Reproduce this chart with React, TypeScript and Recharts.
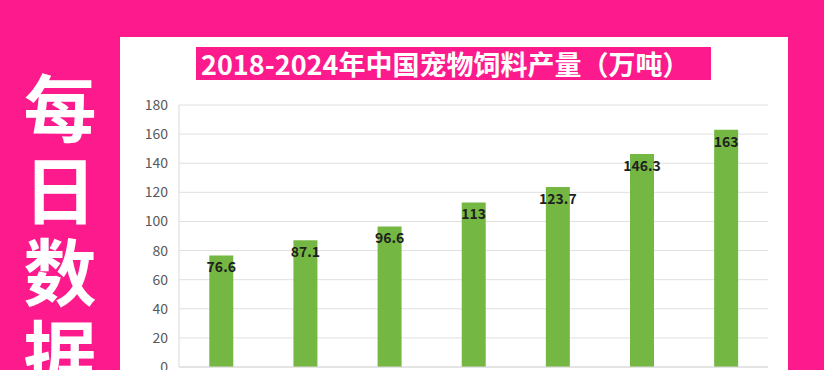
import { Bar, BarChart, CartesianGrid, LabelList, XAxis, YAxis } from 'recharts';

const PINK = '#fc1a8c';
const GREEN = '#74b843';

const years = ['2018', '2019', '2020', '2021', '2022', '2023', '2024'];
const output = [76.6, 87.1, 96.6, 113, 123.7, 146.3, 163];
const yTicks = [0, 20, 40, 60, 80, 100, 120, 140, 160, 180];
const sideChars = ['每', '日', '数', '据'];
const TITLE = '2018-2024年中国宠物饲料产量（万吨）';

const FONT = '"Noto Sans CJK SC", "Noto Sans", sans-serif';

const App = () => {
  const data = years.map((y, i) => ({ year: y, value: output[i] }));

  return (
    <div
      style={{
        position: 'fixed',
        left: 0,
        top: 0,
        width: 824,
        height: 370,
        overflow: 'hidden',
        background: PINK,
        fontFamily: FONT,
      }}
    >
      {/* big vertical banner on the left, one char per slot */}
      {sideChars.map((c, i) => (
        <div
          key={c}
          style={{
            position: 'absolute',
            left: 0,
            top: 63 + i * 82,
            width: 120,
            height: 82,
            textAlign: 'center',
            color: '#fff',
            fontSize: 73,
            fontWeight: 700,
            lineHeight: '82px',
          }}
        >
          {c}
        </div>
      ))}

      {/* white chart panel */}
      <div
        style={{
          position: 'absolute',
          left: 120,
          top: 37,
          width: 668,
          height: 380,
          background: '#fff',
        }}
      >
        <div
          style={{
            position: 'absolute',
            left: 76,
            top: 10,
            width: 510,
            height: 33,
            paddingLeft: 5,
            background: PINK,
            color: '#fff',
            fontSize: 27,
            fontWeight: 700,
            lineHeight: '33px',
            whiteSpace: 'nowrap',
          }}
        >
          {TITLE}
        </div>

        <div style={{ position: 'absolute', left: 0, top: 0 }}>
          <BarChart
            width={668}
            height={365}
            data={data}
            margin={{ top: 68, right: 20, bottom: 5, left: 9 }}
            barCategoryGap="36%"
          >
            <CartesianGrid stroke="#e0e0e0" vertical={false} />
            <XAxis
              dataKey="year"
              axisLine={{ stroke: '#d9d9d9' }}
              tickLine={false}
              tick={{ fontSize: 14, fill: '#595959' }}
            />
            <YAxis
              domain={[0, 180]}
              ticks={yTicks}
              width={50}
              axisLine={{ stroke: '#d9d9d9' }}
              tickLine={false}
              tickMargin={5}
              tick={{ fontSize: 14, fill: '#595959' }}
            />
            <Bar dataKey="value" fill={GREEN} isAnimationActive={false}>
              <LabelList
                dataKey="value"
                position="insideTop"
                offset={7}
                style={{ fontSize: 14, fill: '#1f1f1f', fontWeight: 600 }}
              />
            </Bar>
          </BarChart>
        </div>
      </div>
    </div>
  );
};

export default App;
